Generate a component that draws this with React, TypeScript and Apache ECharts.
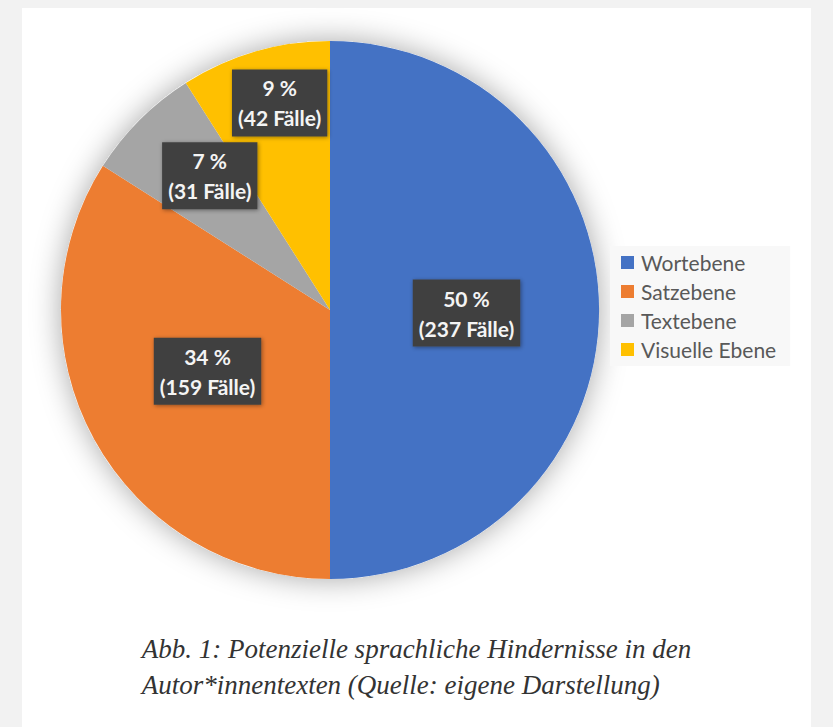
import React, { useEffect, useRef } from "react";
import * as echarts from "echarts";

const categories = ["Wortebene", "Satzebene", "Textebene", "Visuelle Ebene"];
const percentShares = [50, 34, 7, 9];
const cases = [237, 159, 31, 42];
const colors = ["#4472C4", "#ED7D31", "#A5A5A5", "#FFC000"];
const labelShifts = [
  { dx: -1, dy: 3 },
  { dx: -2, dy: -5 },
  { dx: -23, dy: -37 },
  { dx: -12, dy: -75 },
];
const captionLines = [
  "Abb. 1: Potenzielle sprachliche Hindernisse in den",
  "Autor*innentexten (Quelle: eigene Darstellung)",
];

export default function App() {
  const ref = useRef<HTMLDivElement>(null);
  useEffect(() => {
    document.body.style.margin = "0";
    const chart = echarts.init(ref.current!, null, { renderer: "svg" });
    const center = [330, 310];
    const radius = 269;
    chart.setOption({
      animation: false,
      backgroundColor: "#f2f2f2",
      graphic: [
        {
          type: "rect",
          z: -10,
          shape: { x: 22, y: 8, width: 789, height: 730 },
          style: { fill: "#ffffff" },
        },
        {
          type: "text",
          left: "center",
          top: 631,
          style: {
            text: captionLines.join("\n"),
            fontFamily: "Liberation Serif",
            fontStyle: "italic",
            fontSize: 27,
            lineHeight: 36,
            fill: "#333333",
            align: "center",
          },
        },
      ],
      legend: {
        orient: "vertical",
        left: 610,
        top: 246,
        data: categories,
        itemWidth: 13,
        itemHeight: 13,
        itemGap: 8,
        padding: [6, 14, 6, 11],
        backgroundColor: "#f8f8f8",
        icon: "rect",
        selectedMode: false,
        textStyle: { fontFamily: "Lato", fontSize: 21, color: "#595959", padding: [0, 0, 0, 2] },
      },
      series: [
        {
          type: "pie",
          name: "shadow",
          silent: true,
          center,
          radius,
          z: 1,
          label: { show: false },
          labelLine: { show: false },
          itemStyle: {
            color: "#ffffff",
            shadowBlur: 30,
            shadowColor: "rgba(0,0,0,0.35)",
          },
          data: [{ name: "shadow", value: 1 }],
        },
        {
          type: "pie",
          z: 2,
          center,
          radius,
          startAngle: 90,
          clockwise: true,
          color: colors,
          itemStyle: { borderWidth: 0 },
          label: {
            show: true,
            position: "inside",
            formatter: (p: any) =>
              `${p.value} %\n(${cases[p.dataIndex]} Fälle)`,
            color: "#f4f4f4",
            fontFamily: "Lato",
            fontWeight: "bold",
            fontSize: 21,
            lineHeight: 30,
            backgroundColor: "#404040",
            padding: [4, 6, 3, 6],
            align: "center",
            shadowBlur: 4,
            shadowColor: "rgba(0,0,0,0.4)",
            shadowOffsetX: 1,
            shadowOffsetY: 1,
          },
          labelLayout: (params: any) => labelShifts[params.dataIndex],
          data: categories.map((name, i) => ({ name, value: percentShares[i] })),
        },
      ],
    });
    return () => chart.dispose();
  }, []);
  return <div ref={ref} style={{ width: 833, height: 727 }} />;
}
